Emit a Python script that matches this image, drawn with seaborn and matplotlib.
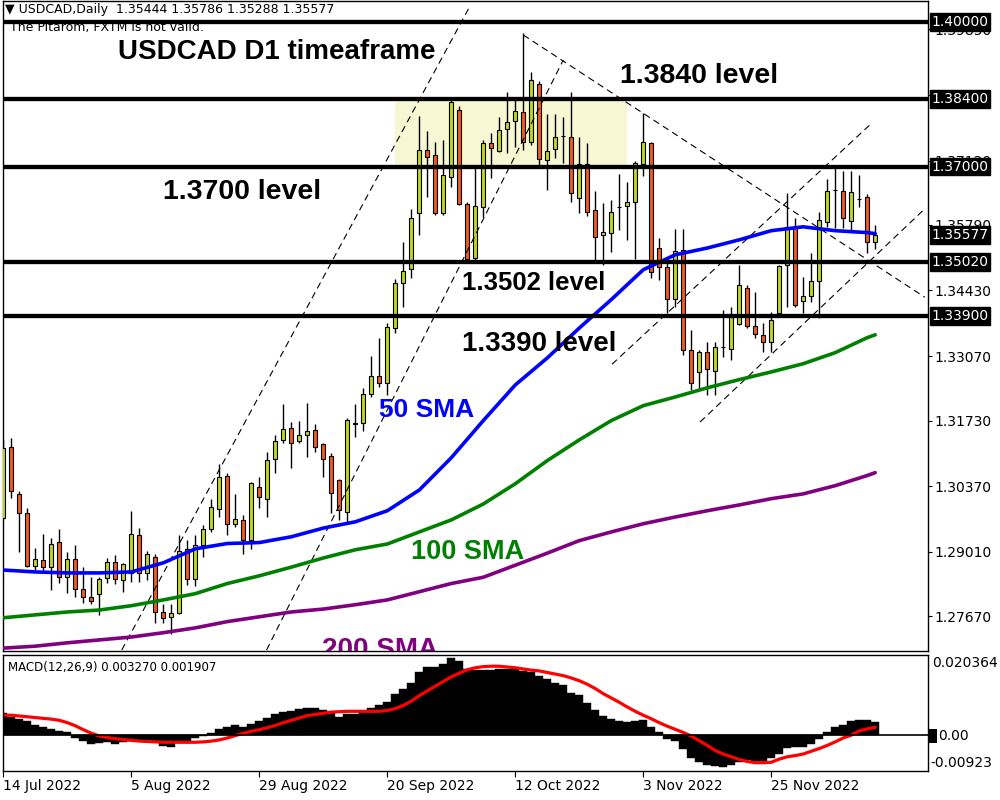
import numpy as np
import pandas as pd
import matplotlib
matplotlib.use("Agg")
import matplotlib.pyplot as plt
import matplotlib.transforms as mtransforms
from matplotlib.patches import Rectangle
import seaborn as sns

# USDCAD daily candles, bar 0 = 14 Jul 2022
opens = [
    1.2971, 1.3118, 1.3021, 1.2982, 1.2871, 1.2884, 1.2869, 1.2922, 1.2848, 1.2886,
    1.2824, 1.2807, 1.2814, 1.2847, 1.2880, 1.2843, 1.2857, 1.2936, 1.2857, 1.2890,
    1.2776, 1.2765, 1.2774, 1.2907, 1.2845, 1.2914, 1.2948, 1.2990, 1.3059, 1.2959,
    1.2967, 1.2926, 1.3035, 1.3011, 1.3094, 1.3133, 1.3158, 1.3131, 1.3144, 1.3154,
    1.3125, 1.3100, 1.3050, 1.2984, 1.3167, 1.3169, 1.3228, 1.3266, 1.3252, 1.3365,
    1.3459, 1.3488, 1.3604, 1.3735, 1.3725, 1.3604, 1.3679, 1.3818, 1.3623, 1.3511,
    1.3617, 1.3748, 1.3733, 1.3778, 1.3795, 1.3814, 1.3750, 1.3872, 1.3714, 1.3737,
    1.3764, 1.3762, 1.3635, 1.3706, 1.3610, 1.3558, 1.3563, 1.3617, 1.3619, 1.3627,
    1.3706, 1.3748, 1.3531, 1.3492, 1.3426, 1.3527, 1.3320, 1.3274, 1.3316, 1.3276,
    1.3325, 1.3322, 1.3374, 1.3448, 1.3369, 1.3351, 1.3337, 1.3397, 1.3496, 1.3575,
    1.3421, 1.3432, 1.3463, 1.3584, 1.3652, 1.3650, 1.3588, 1.3633, 1.3637, 1.35444,
]
highs = [
    1.3133, 1.3137, 1.3027, 1.2992, 1.2909, 1.2938, 1.2929, 1.2948, 1.2901, 1.2914,
    1.2869, 1.2848, 1.2848, 1.2888, 1.2895, 1.2878, 1.2986, 1.2950, 1.2903, 1.2897,
    1.2793, 1.2793, 1.2936, 1.2926, 1.2936, 1.2957, 1.3011, 1.3082, 1.3065, 1.3021,
    1.2978, 1.3046, 1.3056, 1.3108, 1.3144, 1.3208, 1.3171, 1.3173, 1.3210, 1.3165,
    1.3127, 1.3106, 1.3052, 1.3179, 1.3208, 1.3241, 1.3307, 1.3345, 1.3376, 1.3467,
    1.3544, 1.3612, 1.3805, 1.3774, 1.3750, 1.3756, 1.3842, 1.3826, 1.3627, 1.3697,
    1.3756, 1.3770, 1.3803, 1.3855, 1.3838, 1.3977, 1.3897, 1.3878, 1.3809, 1.3809,
    1.3803, 1.3855, 1.3762, 1.3748, 1.3650, 1.3625, 1.3631, 1.3685, 1.3667, 1.3712,
    1.3811, 1.3752, 1.3552, 1.3507, 1.3571, 1.3571, 1.3361, 1.3320, 1.3337, 1.3337,
    1.3403, 1.3409, 1.3496, 1.3455, 1.3440, 1.3376, 1.3399, 1.3496, 1.3646, 1.3594,
    1.3471, 1.3521, 1.3606, 1.3675, 1.3700, 1.3691, 1.3691, 1.3683, 1.3644, 1.35786,
]
lows = [
    1.2967, 1.3012, 1.2901, 1.2869, 1.2863, 1.2857, 1.2822, 1.2837, 1.2816, 1.2807,
    1.2795, 1.2793, 1.2770, 1.2837, 1.2833, 1.2818, 1.2839, 1.2839, 1.2843, 1.2754,
    1.2754, 1.2731, 1.2772, 1.2831, 1.2829, 1.2890, 1.2942, 1.2973, 1.2936, 1.2952,
    1.2897, 1.2907, 1.2992, 1.2973, 1.3065, 1.3127, 1.3075, 1.3127, 1.3098, 1.3108,
    1.3056, 1.2982, 1.2967, 1.2963, 1.3140, 1.3152, 1.3222, 1.3243, 1.3226, 1.3355,
    1.3409, 1.3469, 1.3558, 1.3637, 1.3600, 1.3600, 1.3658, 1.3621, 1.3507, 1.3507,
    1.3596, 1.3677, 1.3731, 1.3729, 1.3741, 1.3735, 1.3745, 1.3697, 1.3652, 1.3718,
    1.3708, 1.3627, 1.3604, 1.3598, 1.3507, 1.3496, 1.3523, 1.3569, 1.3548, 1.3509,
    1.3681, 1.3469, 1.3465, 1.3397, 1.3409, 1.3310, 1.3237, 1.3237, 1.3226, 1.3226,
    1.3305, 1.3299, 1.3372, 1.3365, 1.3345, 1.3316, 1.3316, 1.3395, 1.3409, 1.3409,
    1.3397, 1.3419, 1.3386, 1.3575, 1.3573, 1.3573, 1.3569, 1.3617, 1.3521, 1.35288,
]
closes = [
    1.3116, 1.3027, 1.2982, 1.2871, 1.2886, 1.2869, 1.2916, 1.2848, 1.2886, 1.2824,
    1.2807, 1.2799, 1.2845, 1.2880, 1.2845, 1.2876, 1.2938, 1.2857, 1.2897, 1.2776,
    1.2763, 1.2774, 1.2903, 1.2845, 1.2914, 1.2948, 1.2994, 1.3056, 1.2959, 1.2969,
    1.2926, 1.3044, 1.3014, 1.3092, 1.3131, 1.3156, 1.3127, 1.3144, 1.3152, 1.3118,
    1.3094, 1.3023, 1.2988, 1.3175, 1.3166, 1.3228, 1.3266, 1.3252, 1.3367, 1.3459,
    1.3484, 1.3594, 1.3735, 1.3720, 1.3604, 1.3683, 1.3834, 1.3623, 1.3509, 1.3619,
    1.3748, 1.3739, 1.3776, 1.3793, 1.3816, 1.3751, 1.3880, 1.3716, 1.3733, 1.3762,
    1.3763, 1.3646, 1.3706, 1.3606, 1.3554, 1.3565, 1.3606, 1.3616, 1.3627, 1.3708,
    1.3750, 1.3482, 1.3492, 1.3426, 1.3525, 1.3320, 1.3252, 1.3316, 1.3280, 1.3326,
    1.3326, 1.3388, 1.3455, 1.3369, 1.3353, 1.3337, 1.3382, 1.3494, 1.3575, 1.3413,
    1.3432, 1.3463, 1.3590, 1.3650, 1.3651, 1.3594, 1.3648, 1.3632, 1.3544, 1.35577,
]

# moving averages, read every 4th bar
sma_bars = list(range(0, 109, 4)) + [109]
sma50 = [1.2863, 1.2859, 1.2857, 1.2857, 1.2859, 1.2878, 1.2907, 1.2918, 1.2920, 1.2932,
         1.2950, 1.2963, 1.2986, 1.3029, 1.3096, 1.3173, 1.3247, 1.3303, 1.3365, 1.3424,
         1.3486, 1.3517, 1.3531, 1.3548, 1.3567, 1.3575, 1.3567, 1.3563, 1.3561]
sma100 = [1.2764, 1.2770, 1.2776, 1.2780, 1.2789, 1.2801, 1.2814, 1.2835, 1.2851, 1.2869,
          1.2888, 1.2905, 1.2917, 1.2942, 1.2967, 1.3000, 1.3042, 1.3090, 1.3133, 1.3173,
          1.3204, 1.3222, 1.3241, 1.3258, 1.3274, 1.3291, 1.3314, 1.3345, 1.3351]
sma200 = [1.2701, 1.2705, 1.2712, 1.2718, 1.2724, 1.2733, 1.2743, 1.2756, 1.2766, 1.2776,
          1.2782, 1.2791, 1.2801, 1.2818, 1.2835, 1.2848, 1.2873, 1.2898, 1.2924, 1.2942,
          1.2959, 1.2973, 1.2986, 1.2998, 1.3011, 1.3021, 1.3038, 1.3059, 1.3065]

# MACD(12,26,9): main (histogram) and signal
macd_main = [
    0.0056, 0.0046, 0.0040, 0.0034, 0.0026, 0.0019, 0.0015, 0.0010, 0.0007, -0.0009,
    -0.0015, -0.0023, -0.0021, -0.0019, -0.0023, -0.0019, -0.0017, -0.0015, -0.0015, -0.0019,
    -0.0028, -0.0030, -0.0019, -0.0015, -0.0009, -0.0002, 0.0004, 0.0015, 0.0021, 0.0024,
    0.0021, 0.0028, 0.0034, 0.0043, 0.0052, 0.0058, 0.0062, 0.0067, 0.0069, 0.0069,
    0.0063, 0.0058, 0.0046, 0.0052, 0.0054, 0.0058, 0.0069, 0.0075, 0.0084, 0.0103,
    0.0116, 0.0133, 0.0159, 0.0174, 0.0174, 0.0180, 0.0196, 0.0189, 0.0169, 0.0165,
    0.0166, 0.0166, 0.0168, 0.0169, 0.0168, 0.0163, 0.0159, 0.0150, 0.0142, 0.0133,
    0.0126, 0.0107, 0.0101, 0.0082, 0.0064, 0.0049, 0.0041, 0.0036, 0.0032, 0.0034,
    0.0039, 0.0021, 0.0007, -0.0010, -0.0015, -0.0036, -0.0058, -0.0070, -0.0077, -0.0080,
    -0.0083, -0.0077, -0.0069, -0.0064, -0.0066, -0.0066, -0.0058, -0.0050, -0.0034, -0.0031,
    -0.0030, -0.0024, -0.0010, 0.0007, 0.0021, 0.0026, 0.0034, 0.0039, 0.0037, 0.00327,
]
macd_signal = [
    0.0050, 0.0050, 0.0048, 0.0046, 0.0044, 0.0042, 0.0040, 0.0037, 0.0031, 0.0023,
    0.0013, 0.0004, -0.0003, -0.0007, -0.0010, -0.0012, -0.0014, -0.0016, -0.0017, -0.0018,
    -0.0019, -0.0019, -0.0019, -0.0019, -0.0019, -0.0018, -0.0016, -0.0013, -0.0008, -0.0002,
    0.0004, 0.0009, 0.0013, 0.0018, 0.0024, 0.0031, 0.0037, 0.0043, 0.0049, 0.0052,
    0.0055, 0.0058, 0.0059, 0.0060, 0.0060, 0.0060, 0.0060, 0.0060, 0.0062, 0.0067,
    0.0075, 0.0086, 0.0100, 0.0112, 0.0124, 0.0136, 0.0148, 0.0157, 0.0166, 0.0171,
    0.0174, 0.0175, 0.0175, 0.0173, 0.0171, 0.0168, 0.0165, 0.0163, 0.0159, 0.0155,
    0.0151, 0.0145, 0.0138, 0.0129, 0.0118, 0.0105, 0.0094, 0.0083, 0.0071, 0.0060,
    0.0050, 0.0041, 0.0031, 0.0022, 0.0014, 0.0006, -0.0003, -0.0015, -0.0027, -0.0040,
    -0.0049, -0.0056, -0.0063, -0.0068, -0.0071, -0.0071, -0.0070, -0.0062, -0.0056, -0.0053,
    -0.0049, -0.0042, -0.0035, -0.0027, -0.0018, -0.0008, -0.0001, 0.0010, 0.0015, 0.001907,
]

# horizontal levels and labels
levels = [1.40000, 1.38400, 1.37000, 1.35020, 1.33900]
last_price = 1.35577
price_ticks = [1.27670, 1.29010, 1.30370, 1.31730, 1.33070, 1.34430,
               1.35790, 1.37120, 1.38480, 1.39850]
date_labels = ["14 Jul 2022", "5 Aug 2022", "29 Aug 2022", "20 Sep 2022",
               "12 Oct 2022", "3 Nov 2022", "25 Nov 2022"]

# trend lines drawn on the chart: (bar, price) start and end
trend_lines = [
    ((14.8, 1.2697), (58.2, 1.4029)),
    ((32.9, 1.2697), (70.0, 1.3921)),
    ((65.0, 1.3973), (115.2, 1.3429)),
    ((76.1, 1.3290), (108.3, 1.3786)),
    ((87.1, 1.3170), (115.3, 1.3614)),
]
zone_bars = (49, 78)
zone_prices = (1.3700, 1.3840)

assert len(opens) == len(highs) == len(lows) == len(closes) == len(macd_main) == len(macd_signal)

df = pd.DataFrame({"open": opens, "high": highs, "low": lows, "close": closes,
                   "macd": macd_main, "signal": macd_signal})
df["bar"] = np.arange(len(df))
dates = pd.bdate_range("2022-07-14", periods=len(df))
tick_pos = dates.get_indexer(pd.to_datetime(date_labels, format="%d %b %Y"))

sns.set_theme(style="white")
plt.rcParams['font.family'] = ['DejaVu Sans']
plt.rcParams['text.color'] = 'black'

fig = plt.figure(figsize=(10, 8), dpi=100)
ax = fig.add_axes([0.003, 149 / 800, 0.925, 650 / 800])
ax2 = fig.add_axes([0.003, 29 / 800, 0.925, 116 / 800])

up_col = '#BFD430'
dn_col = '#F05A1E'

# --- main panel ---
ax.add_patch(Rectangle((zone_bars[0], zone_prices[0]), zone_bars[1] - zone_bars[0],
                       zone_prices[1] - zone_prices[0], fc='#F7F7D4', ec='none', zorder=0.5))

ax.vlines(df["bar"], df["low"], df["high"], color='black', lw=1.0, zorder=3)
body_bot = df[["open", "close"]].min(axis=1)
body_h = (df["close"] - df["open"]).abs()
cols = np.where(df["close"] >= df["open"], up_col, dn_col)
ax.bar(df["bar"], body_h, bottom=body_bot, width=0.5, color=cols,
       edgecolor='black', linewidth=0.8, zorder=3.5)

for (x1, y1), (x2, y2) in trend_lines:
    ax.plot([x1, x2], [y1, y2], color='black', lw=0.8, linestyle=(0, (6, 4)), zorder=4)

sns.lineplot(x=sma_bars, y=sma200, ax=ax, color='#800080', linewidth=2.6, zorder=4.2, legend=False)
sns.lineplot(x=sma_bars, y=sma100, ax=ax, color='#008000', linewidth=2.6, zorder=4.2, legend=False)
sns.lineplot(x=sma_bars, y=sma50, ax=ax, color='#0000FF', linewidth=2.6, zorder=4.2, legend=False)

for lvl in levels:
    ax.axhline(lvl, color='black', lw=3.1, zorder=5)

ax.set_xlim(-0.05, 115.6)
ax.set_ylim(1.26950, 1.40435)
ax.set_xticks([])
ax.set_xlabel("")
ax.set_ylabel("")
ax.yaxis.tick_right()
ax.set_yticks(price_ticks)
ax.set_yticklabels([f"{t:.5f}" for t in price_ticks])
ax.tick_params(axis='y', right=True, left=False, direction='out', length=3,
               width=0.8, pad=1.5, labelsize=10, colors='black')
for sp in ax.spines.values():
    sp.set_color('black')
    sp.set_linewidth(1)

blend = mtransforms.blended_transform_factory(ax.transAxes, ax.transData)
for lvl in levels + [last_price]:
    ax.text(1.004, lvl, f"{lvl:.5f}", transform=blend, ha='left', va='center',
            color='white', fontsize=10, zorder=6, clip_on=False,
            bbox=dict(boxstyle='square,pad=0.12', fc='black', ec='black'))


def px(x, y):
    return x / 1000, 1 - y / 800


bold = ['Liberation Sans', 'DejaVu Sans']
notes = [
    ("USDCAD D1 timeaframe", 118, 59, 20, 'black'),
    ("1.3840 level", 620, 83, 20.5, 'black'),
    ("1.3700 level", 163, 199, 20.5, 'black'),
    ("1.3502 level", 462, 290, 18.5, 'black'),
    ("1.3390 level", 462, 351, 20, 'black'),
    ("50 SMA", 379, 417, 19, '#0000FF'),
    ("100 SMA", 411, 559, 19.5, '#008000'),
    ("200 SMA", 322, 657, 20, '#800080'),
]
for txt, x, y, fs, c in notes:
    fx, fy = px(x, y)
    ax.text(fx, fy, txt, transform=fig.transFigure, ha='left', va='baseline',
            fontsize=fs, fontweight='bold', family=bold, color=c, zorder=7, clip_on=True)

fx, fy = px(5, 10)
ax.text(fx, fy, "\u25bc USDCAD,Daily  1.35444 1.35786 1.35288 1.35577",
        transform=fig.transFigure, ha='left', va='center', fontsize=9, color='black', zorder=7)
fx, fy = px(10, 28)
ax.text(fx, fy, "The Pitarom, FXTM is not valid.", transform=fig.transFigure,
        ha='left', va='center', fontsize=9, color='black', zorder=4.5)

# --- MACD panel ---
ax2.bar(df["bar"], df["macd"], width=1.0, color='black', edgecolor='black', linewidth=0.3)
sns.lineplot(x=df["bar"], y=df["signal"], ax=ax2, color='#FF0000', linewidth=2.3, legend=False)
ax2.axhline(0, color='black', lw=1.2)
ax2.set_xlim(-0.05, 115.6)
ax2.set_ylim(-0.00923, 0.020364)
ax2.set_yticks([])
ax2.set_xlabel("")
ax2.set_ylabel("")
ax2.set_xticks(tick_pos)
ax2.set_xticklabels(date_labels, ha='left')
ax2.tick_params(axis='x', bottom=True, direction='out', length=4, width=0.8,
                pad=2, labelsize=10, colors='black')
for sp in ax2.spines.values():
    sp.set_color('black')
    sp.set_linewidth(1)

fx, fy = px(8, 667)
fig.text(fx, fy, "MACD(12,26,9) 0.003270 0.001907", ha='left', va='center', fontsize=8.5, color='black')
fx, fy = px(932, 663)
fig.text(fx, fy, "0.020364", ha='left', va='center', fontsize=10, color='black')
fx, fy = px(930, 763)
fig.text(fx, fy, "-0.00923", ha='left', va='center', fontsize=10, color='black')
fig.patches.append(Rectangle((929 / 1000, 1 - 743 / 800), 8 / 1000, 14 / 800,
                             transform=fig.transFigure, fc='black', ec='none'))
fx, fy = px(938, 736)
fig.text(fx, fy, "0.00", ha='left', va='center', fontsize=10, color='black')

fig.savefig("out.png", dpi=100)
